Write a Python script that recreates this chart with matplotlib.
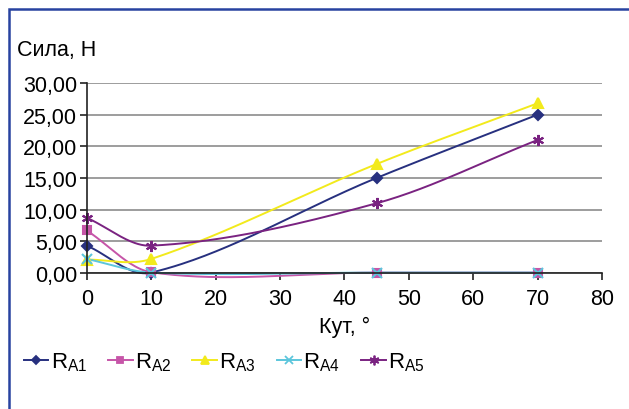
import numpy as np
import matplotlib.pyplot as plt
from matplotlib.ticker import FuncFormatter, MultipleLocator
from matplotlib.patches import Rectangle

plt.rcParams['font.family'] = ['Liberation Sans', 'DejaVu Sans']
plt.rcParams['mathtext.fontset'] = 'custom'
plt.rcParams['mathtext.rm'] = 'Liberation Sans'

# angle, degrees
angles = [0, 10, 45, 70]
# reaction forces, N
ra1 = [4.30, 0.05, 15.00, 25.00]
ra2 = [6.70, 0.10, 0.05, 0.05]
ra3 = [2.10, 2.20, 17.20, 26.80]
ra4 = [2.20, 0.05, 0.05, 0.05]
ra5 = [8.70, 4.30, 11.00, 21.00]
names = ['A1', 'A2', 'A3', 'A4', 'A5']


def smooth(xs, ys, n=60):
    # smoothed line like in Excel: cubic pieces, tangents from the neighbours
    xs = np.asarray(xs, float)
    ys = np.asarray(ys, float)
    m = np.empty_like(ys)
    m[0] = (ys[1] - ys[0]) / (xs[1] - xs[0])
    m[-1] = (ys[-1] - ys[-2]) / (xs[-1] - xs[-2])
    m[1:-1] = (ys[2:] - ys[:-2]) / (xs[2:] - xs[:-2])
    ox, oy = [], []
    for i in range(len(xs) - 1):
        h = xs[i + 1] - xs[i]
        t = np.linspace(0, 1, n)
        h00 = 2 * t ** 3 - 3 * t ** 2 + 1
        h10 = t ** 3 - 2 * t ** 2 + t
        h01 = -2 * t ** 3 + 3 * t ** 2
        h11 = t ** 3 - t ** 2
        ox.append(xs[i] + t * h)
        oy.append(h00 * ys[i] + h10 * h * m[i] + h01 * ys[i + 1] + h11 * h * m[i + 1])
    return np.concatenate(ox), np.concatenate(oy)


series = [ra1, ra2, ra3, ra4, ra5]
colors = ['#27307f', '#c655a8', '#f2ea1c', '#5cc6dc', '#7a2381']
markers = ['D', 's', '^', 'x', (6, 2, 0)]
msizes = [5, 6, 7, 7, 8]

fig = plt.figure(figsize=(6.29, 4.10), dpi=100)
ax = fig.add_axes([0.138, 0.332, 0.819, 0.463])

for ys, name, c, m, ms in zip(series, names, colors, markers, msizes):
    sx, sy = smooth(angles, ys)
    ax.plot(sx, sy, color=c, lw=1.4, zorder=3, clip_on=False)
    ax.plot(angles, ys, ls='none', marker=m, color=c, ms=ms, mew=1.5, zorder=4,
            clip_on=False)
    ax.plot([], [], color=c, lw=1.4, marker=m, ms=ms - 1, mew=1.3,
            label=r'$\mathregular{R_{%s}}$' % name)

ax.set_xlim(0, 80)
ax.set_ylim(0, 30)
ax.xaxis.set_major_locator(MultipleLocator(10))
ax.yaxis.set_major_locator(MultipleLocator(5))
ax.yaxis.set_major_formatter(FuncFormatter(lambda v, p: f'{v:.2f}'.replace('.', ',')))
ax.grid(axis='y', color='#8c8c8c', lw=1.2)
ax.set_axisbelow(True)
for s in ['top', 'right']:
    ax.spines[s].set_visible(False)
for s in ['left', 'bottom']:
    ax.spines[s].set_color('#222222')
    ax.spines[s].set_linewidth(1.2)
    ax.spines[s].set_zorder(5)
ax.tick_params(axis='both', labelsize=15.5, color='#222222', width=1.2, length=5)
ax.tick_params(axis='x', pad=6)
ax.tick_params(axis='y', pad=2)

ax.set_xlabel('Кут, °', fontsize=15.5, labelpad=5)
fig.text(0.027, 0.878, 'Сила, Н', fontsize=15.5, ha='left', va='center')

fig.legend(loc='center left', bbox_to_anchor=(0.038, 0.115), ncol=5, frameon=False,
           fontsize=16, handlelength=1.1, handletextpad=0.1, columnspacing=0.95,
           borderpad=0, borderaxespad=0)

# outer frame of the chart (only top and left edges fall inside the picture)
fig.patches.append(Rectangle((0.0145, -0.1), 1.2, 1.0756, transform=fig.transFigure,
                             fill=False, edgecolor='#2843a0', lw=1.8))

fig.savefig('out.png', dpi=100)
